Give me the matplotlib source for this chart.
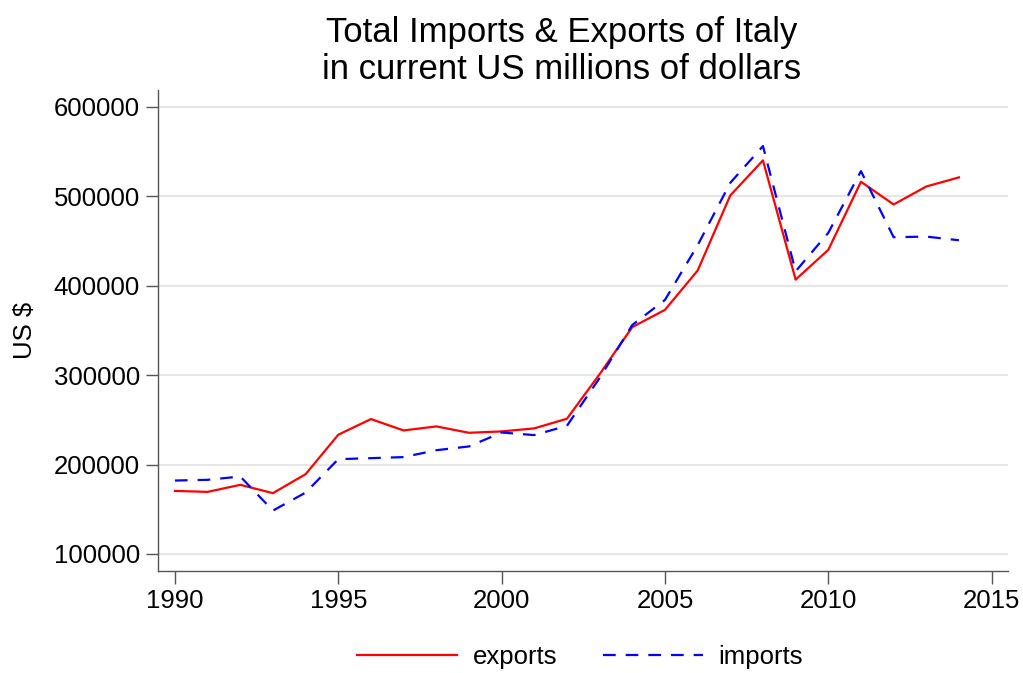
import matplotlib
matplotlib.use("Agg")
import matplotlib.pyplot as plt

plt.rcParams['font.family'] = ['Liberation Sans', 'DejaVu Sans']

years = list(range(1990, 2015))
exports = [170500, 169400, 177300, 168000, 189200, 233300, 250800, 238100, 242600,
           235500, 237000, 240400, 251200, 301000, 353600, 372900, 416800, 500800,
           540000, 406700, 440000, 516100, 490700, 510800, 521000]
imports = [182100, 182900, 186600, 148500, 168600, 206000, 207100, 208300, 216000,
           220200, 235800, 232900, 243300, 296700, 356000, 384000, 445100, 514900,
           556000, 416000, 459000, 528000, 454100, 454800, 450700]
yticks = [100000, 200000, 300000, 400000, 500000, 600000]
xticks = [1990, 1995, 2000, 2005, 2010, 2015]

fig = plt.figure(figsize=(10.23, 6.73), dpi=100)
ax = fig.add_axes([0.1544, 0.152, 0.8309, 0.7143])

ax.plot(years, exports, color='#ff0000', lw=1.6, label='exports')
ax.plot(years, imports, color='#0000ff', lw=1.6, dashes=(5.7, 4.5), label='imports')

ax.set_xlim(1989.48, 2015.5)
ax.set_ylim(81300, 618700)
ax.set_xticks(xticks)
ax.set_yticks(yticks)
ax.set_yticklabels([str(v) for v in yticks])
ax.grid(axis='y', color='#e6e6e6', lw=1.5)
ax.set_axisbelow(True)

for s in ['top', 'right']:
    ax.spines[s].set_visible(False)
for s in ['left', 'bottom']:
    ax.spines[s].set_color('#555555')
    ax.spines[s].set_linewidth(1.0)
ax.tick_params(colors='#555555', labelcolor='black', labelsize=18.5, length=9, width=1.0)
ax.tick_params(axis='y', pad=4)
ax.tick_params(axis='x', pad=4)

ax.set_ylabel('US $', fontsize=18.5, labelpad=12)

fig.text(0.549, 0.952, 'Total Imports & Exports of Italy', ha='center', va='center', fontsize=25)
fig.text(0.549, 0.897, 'in current US millions of dollars', ha='center', va='center', fontsize=25)

fig.legend(loc='center', bbox_to_anchor=(0.567, 0.024), ncol=2, frameon=False,
           fontsize=18.5, handlelength=3.9, handletextpad=0.62, columnspacing=1.75)

fig.savefig('out.png', dpi=100)
